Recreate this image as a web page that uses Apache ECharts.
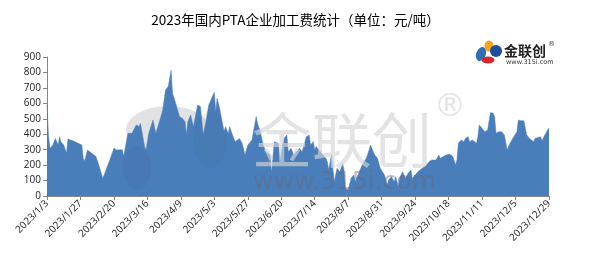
<!DOCTYPE html>
<html>
<head>
<meta charset="utf-8">
<script src="https://cdn.jsdelivr.net/npm/echarts@6/dist/echarts.min.js"></script>
<style>html,body{margin:0;padding:0;background:#fff;}#c{width:591px;height:260px;}</style>
</head>
<body>
<div id="c"></div>
<script>
const dates = ['2023/1/3','2023/1/4','2023/1/5','2023/1/7','2023/1/9','2023/1/11','2023/1/12','2023/1/13','2023/1/15','2023/1/17','2023/1/18','2023/1/22','2023/1/25','2023/1/28','2023/1/29','2023/1/30',
'2023/2/1','2023/2/5','2023/2/7','2023/2/9','2023/2/12','2023/2/17','2023/2/20','2023/2/22','2023/2/26','2023/2/27',
'2023/3/2','2023/3/5','2023/3/8','2023/3/10','2023/3/11','2023/3/14','2023/3/15','2023/3/17','2023/3/20','2023/3/21','2023/3/22','2023/3/25','2023/3/27','2023/3/29','2023/3/31',
'2023/4/2','2023/4/3','2023/4/5','2023/4/6','2023/4/8','2023/4/10','2023/4/12','2023/4/13','2023/4/14','2023/4/16','2023/4/18','2023/4/21','2023/4/23','2023/4/25','2023/4/27','2023/4/29',
'2023/5/1','2023/5/3','2023/5/4','2023/5/5','2023/5/7','2023/5/9','2023/5/10','2023/5/11','2023/5/13','2023/5/14','2023/5/16','2023/5/18','2023/5/21','2023/5/23','2023/5/25','2023/5/27','2023/5/30',
'2023/6/2','2023/6/3','2023/6/5','2023/6/7','2023/6/9','2023/6/12','2023/6/13','2023/6/15','2023/6/18','2023/6/19','2023/6/21','2023/6/22','2023/6/24','2023/6/25','2023/6/27','2023/6/29',
'2023/7/1','2023/7/3','2023/7/5','2023/7/7','2023/7/8','2023/7/10','2023/7/11','2023/7/13','2023/7/14','2023/7/15','2023/7/18','2023/7/20','2023/7/22','2023/7/23','2023/7/24','2023/7/26','2023/7/28','2023/7/30',
'2023/8/1','2023/8/3','2023/8/4','2023/8/5','2023/8/7','2023/8/9','2023/8/11','2023/8/12','2023/8/15','2023/8/17','2023/8/20','2023/8/22','2023/8/23','2023/8/26','2023/8/28','2023/8/30',
'2023/9/2','2023/9/4','2023/9/5','2023/9/7','2023/9/9','2023/9/10','2023/9/12','2023/9/13','2023/9/15','2023/9/17','2023/9/19','2023/9/21','2023/9/22','2023/9/24','2023/9/26','2023/9/27','2023/9/29',
'2023/10/2','2023/10/4','2023/10/6','2023/10/7','2023/10/9','2023/10/11','2023/10/12','2023/10/13','2023/10/16','2023/10/17','2023/10/19','2023/10/21','2023/10/23','2023/10/24','2023/10/25','2023/10/27','2023/10/29','2023/10/30',
'2023/11/1','2023/11/2','2023/11/4','2023/11/5','2023/11/7','2023/11/8','2023/11/9','2023/11/11','2023/11/13','2023/11/15','2023/11/17','2023/11/19','2023/11/20','2023/11/21','2023/11/23','2023/11/25','2023/11/27','2023/11/29',
'2023/12/1','2023/12/3','2023/12/6','2023/12/7','2023/12/9','2023/12/11','2023/12/12','2023/12/13','2023/12/15','2023/12/18','2023/12/19','2023/12/20','2023/12/23','2023/12/24','2023/12/26','2023/12/28','2023/12/29'];
const values = [590,400,310,325,373,330,384,350,330,278,369,356,343,330,244,225,
298,270,257,205,114,233,309,298,300,257,
406,406,460,450,470,319,298,406,492,450,406,492,557,686,710,
815,665,610,622,514,503,481,395,481,525,449,589,580,395,481,589,
632,671,546,632,560,460,416,449,405,449,395,352,373,340,265,330,362,
514,470,416,330,287,265,150,352,340,222,330,373,395,287,309,265,
287,309,287,352,384,395,330,352,298,320,287,265,244,222,170,265,93,179,
157,211,168,50,39,114,136,93,157,201,244,298,330,265,244,179,
136,71,104,125,93,125,60,120,157,114,147,168,114,136,157,147,179,
201,222,233,244,233,265,244,255,265,276,270,255,201,233,341,363,352,373,
384,352,363,352,341,384,460,438,416,427,540,535,514,406,416,416,395,298,
341,373,416,492,487,487,438,395,373,352,373,363,384,358,395,427,440];
const tickLabels = ['2023/1/3','2023/1/27','2023/2/20','2023/3/16','2023/4/9','2023/5/3','2023/5/27','2023/6/20','2023/7/14','2023/8/7','2023/8/31','2023/9/24','2023/10/18','2023/11/11','2023/12/5','2023/12/29'];
const titleText = '2023年国内PTA企业加工费统计（单位：元/吨）';

function dayOffset(s) {
  const p = s.split('/').map(Number);
  return Math.round((Date.UTC(p[0], p[1] - 1, p[2]) - Date.UTC(2023, 0, 3)) / 86400000);
}
const seriesData = dates.map((d, i) => [dayOffset(d), values[i]]);
const lastDay = dayOffset(tickLabels[tickLabels.length - 1]);

const chart = echarts.init(document.getElementById('c'), null, {renderer: 'canvas'});
const wmFont = '"Noto Sans CJK SC", sans-serif';
chart.setOption({
  animation: false,
  title: {
    text: titleText, left: 'center', top: 8,
    textStyle: {fontSize: 13.5, fontWeight: 'normal', color: '#000', fontFamily: '"Noto Sans CJK SC", serif'}
  },
  grid: {left: 47, right: 42, top: 57, bottom: 64, containLabel: false},
  xAxis: {
    type: 'value', min: 0, max: lastDay, interval: 24,
    axisLine: {show: true, lineStyle: {color: '#868686', width: 1}},
    axisTick: {show: true, length: 4, lineStyle: {color: '#868686'}},
    splitLine: {show: false},
    axisLabel: {
      rotate: 45, fontSize: 10, color: '#222', fontFamily: '"Open Sans", sans-serif', margin: 6,
      formatter: v => tickLabels[Math.round(v / 24)] || ''
    }
  },
  yAxis: {
    type: 'value', min: 0, max: 900, interval: 100,
    axisLine: {show: true, lineStyle: {color: '#868686', width: 1}},
    axisTick: {show: true, length: 4, inside: false, lineStyle: {color: '#868686'}},
    splitLine: {show: false},
    axisLabel: {fontSize: 10, color: '#222', fontFamily: '"Open Sans", sans-serif', margin: 6}
  },
  series: [{
    type: 'line', data: seriesData, symbol: 'none', smooth: false,
    lineStyle: {width: 0.5, color: '#4A7EBB'},
    areaStyle: {color: '#4A7EBB', opacity: 1},
    z: 2
  }],
  graphic: [
    // faint logo watermark (left)
    {type: 'circle', z: -1, shape: {cx: 0, cy: 0, r: 40}, x: 168, y: 130, scaleX: 1.05, scaleY: 0.6, style: {fill: '#e2e2e2'}},
    {type: 'circle', z: 100, shape: {cx: 0, cy: 0, r: 18}, x: 137, y: 168, scaleX: 0.8, scaleY: 1.2, style: {fill: 'rgba(60,70,100,0.08)'}},
    {type: 'circle', z: 100, shape: {cx: 0, cy: 0, r: 20}, x: 210, y: 140, scaleX: 0.85, scaleY: 1.4, style: {fill: 'rgba(60,70,100,0.07)'}},
    // big text watermark
    {type: 'text', z: 100, x: 252, y: 140, style: {text: '金联创', font: '60px ' + wmFont, fill: 'rgba(212,212,212,0.65)', textVerticalAlign: 'middle'}},
    {type: 'text', z: 100, x: 434, y: 108, style: {text: '®', font: '32px "DejaVu Sans", sans-serif', fill: 'rgba(212,212,212,0.65)', textVerticalAlign: 'middle'}},
    {type: 'text', z: 100, x: 253, y: 182, style: {text: 'www.315i.com', font: '25px "DejaVu Sans", sans-serif', fill: 'rgba(100,105,125,0.42)', textVerticalAlign: 'middle'}},
    // top-right logo
    {type: 'circle', z: 100, shape: {cx: 0, cy: 0, r: 6}, x: 481, y: 54, scaleX: 0.8, scaleY: 1.2, rotation: -0.4, style: {fill: '#2f6db5'}},
    {type: 'circle', z: 100, shape: {cx: 0, cy: 0, r: 5}, x: 489, y: 46, scaleX: 0.9, scaleY: 1.1, style: {fill: '#f2a51c'}},
    {type: 'circle', z: 100, shape: {cx: 0, cy: 0, r: 5}, x: 488, y: 60, scaleX: 1.3, scaleY: 0.7, style: {fill: '#d8272d'}},
    {type: 'circle', z: 100, shape: {cx: 0, cy: 0, r: 6}, x: 496, y: 51, scaleX: 1, scaleY: 1, style: {fill: '#1c4f9c'}},
    {type: 'text', z: 100, x: 504, y: 51, style: {text: '金联创', font: 'bold 14px ' + wmFont, fill: '#222', textVerticalAlign: 'middle'}},
    {type: 'text', z: 100, x: 548, y: 44, style: {text: '®', font: '7px "DejaVu Sans", sans-serif', fill: '#444', textVerticalAlign: 'middle'}},
    {type: 'text', z: 100, x: 506, y: 62, style: {text: 'www.315i.com', font: '6.5px "DejaVu Sans", sans-serif', fill: '#333', textVerticalAlign: 'middle'}}
  ]
});
</script>
</body>
</html>
